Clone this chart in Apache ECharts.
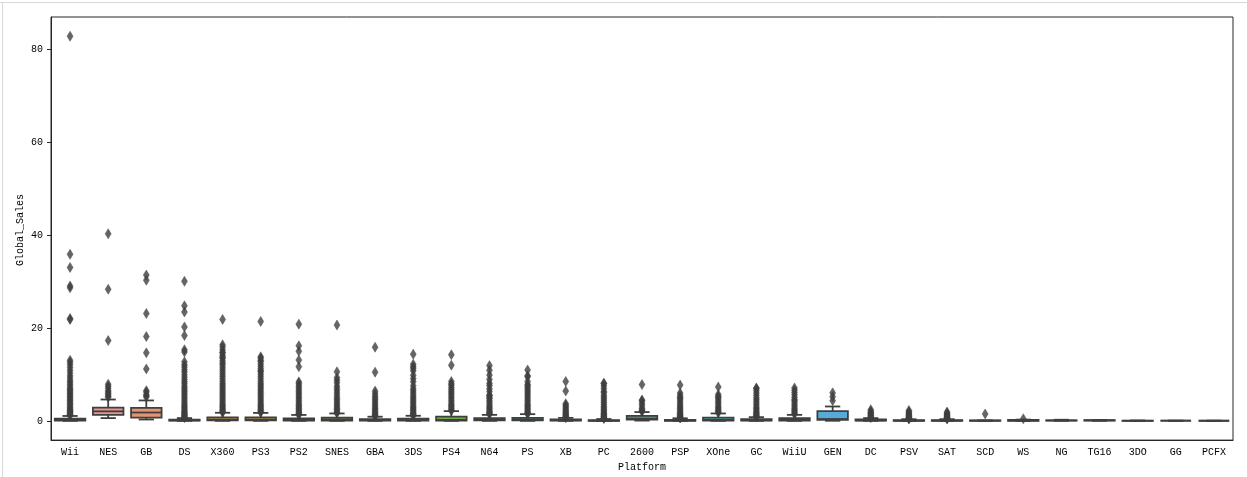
<!DOCTYPE html>
<html>
<head>
<meta charset="utf-8">
<script src="https://cdn.jsdelivr.net/npm/echarts@6/dist/echarts.min.js"></script>
<style>
html,body{margin:0;padding:0;background:#fff;}
#chart{position:absolute;left:0;top:0;width:1247px;height:477px;}
.bt{position:absolute;left:0;top:2px;width:1247px;height:1px;background:#d9d9d9;}
.bl{position:absolute;left:2px;top:2px;width:1px;height:475px;background:#d9d9d9;}
</style>
</head>
<body>
<div id="chart"></div>
<div class="bt"></div><div class="bl"></div>
<script>
// ---- data ----
const platforms = ['Wii','NES','GB','DS','X360','PS3','PS2','SNES','GBA','3DS','PS4','N64','PS','XB','PC','2600','PSP','XOne','GC','WiiU','GEN','DC','PSV','SAT','SCD','WS','NG','TG16','3DO','GG','PCFX'];
const whiskerLow  = [0.01,0.6,0.3,0.01,0.01,0.01,0.01,0.01,0.01,0.01,0.01,0.01,0.01,0.01,0.01,0.07,0.01,0.01,0.01,0.01,0.03,0.02,0.01,0.01,0.02,0.01,0.02,0.02,0.02,0.04,0.03];
const q1          = [0.09,1.3,0.7,0.05,0.11,0.11,0.08,0.07,0.06,0.05,0.06,0.10,0.11,0.06,0.02,0.30,0.02,0.06,0.06,0.08,0.25,0.05,0.02,0.02,0.03,0.02,0.07,0.07,0.02,0.04,0.03];
const median      = [0.19,2.05,1.8,0.11,0.28,0.28,0.23,0.32,0.16,0.17,0.22,0.27,0.26,0.15,0.04,0.50,0.09,0.22,0.15,0.22,0.40,0.10,0.05,0.06,0.06,0.08,0.10,0.12,0.02,0.04,0.03];
const q3          = [0.48,2.85,2.8,0.27,0.77,0.76,0.56,0.70,0.40,0.48,0.90,0.60,0.65,0.30,0.17,1.10,0.24,0.69,0.37,0.57,2.10,0.30,0.16,0.16,0.09,0.20,0.12,0.17,0.06,0.04,0.03];
const whiskerHigh = [1.06,4.6,4.4,0.60,1.75,1.72,1.28,1.60,0.90,1.10,2.10,1.30,1.45,0.65,0.40,1.90,0.56,1.60,0.80,1.30,3.10,0.60,0.36,0.37,0.10,0.28,0.25,0.20,0.08,0.04,0.03];

const outWii  = [82.74,35.82,33.0,29.02,28.62,22.0,21.82,13.04,12.6,12.1,11.5,10.9,10.3,9.7,9.2,8.7,8.3,7.9,7.5,7.1,6.8,6.5,6.2,5.9,5.6,5.3,5.0,4.7,4.4,4.1,3.8,3.5,3.2,2.9,2.6,2.4,2.2,2.0,1.8,1.6,1.45,1.3,1.15];
const outNES  = [40.24,28.31,17.28,7.9,7.46,7.0,6.51,6.2,5.9,5.58,5.3,5.1];
const outGB   = [31.37,30.26,23.1,18.14,14.64,11.18,6.51,6.2,5.64,5.4,5.13];
const outDS   = [30.01,24.76,23.42,20.22,18.36,15.3,14.82,12.7,12.1,11.6,11.0,10.5,9.9,9.4,8.9,8.4,8.0,7.5,7.1,6.7,6.3,5.9,5.5,5.1,4.7,4.3,3.9,3.5,3.2,2.9,2.6,2.3,2.0,1.8,1.6,1.4,1.2,1.0,0.85,0.7];
const outX360 = [21.82,16.38,15.9,15.3,14.76,14.64,14.1,13.68,13.51,13.0,12.5,12.12,11.6,11.1,10.6,10.1,9.6,9.1,8.6,8.1,7.7,7.3,6.9,6.5,6.1,5.7,5.3,4.9,4.5,4.1,3.7,3.4,3.1,2.8,2.5,2.25,2.0,1.8];
const outPS3  = [21.4,13.79,13.46,13.0,12.73,12.2,11.7,11.2,10.77,10.61,10.1,9.6,9.1,8.6,8.1,7.7,7.3,6.9,6.5,6.1,5.7,5.3,4.9,4.5,4.1,3.7,3.4,3.1,2.8,2.5,2.25,2.0,1.8];
const outPS2  = [20.81,16.15,14.98,13.1,11.66,8.4,8.05,7.6,7.2,6.8,6.4,6.0,5.6,5.2,4.8,4.4,4.0,3.6,3.3,3.0,2.7,2.4,2.1,1.85,1.6,1.4,1.3];
const outSNES = [20.61,10.55,9.3,8.76,8.2,7.5,7.0,6.5,6.0,5.5,5.0,4.6,4.2,3.8,3.4,3.0,2.7,2.4,2.1,1.85,1.65];
const outGBA  = [15.85,10.49,6.41,5.9,5.4,5.0,4.6,4.2,3.8,3.4,3.0,2.7,2.4,2.1,1.8,1.5,1.3,1.1,0.95];
const out3DS  = [14.35,12.21,11.68,11.33,10.79,9.82,9.09,8.4,7.55,6.9,6.5,6.0,5.5,5.1,4.7,4.3,3.9,3.5,3.1,2.8,2.5,2.2,1.9,1.65,1.45,1.25,1.15];
const outPS4  = [14.24,11.98,8.49,8.0,7.67,7.2,6.8,6.4,6.0,5.6,5.2,4.8,4.4,4.0,3.6,3.3,3.0,2.7,2.4,2.2];
const outN64  = [11.89,10.9,9.87,8.9,8.09,7.6,6.9,6.3,5.55,5.45,5.1,4.8,4.4,4.0,3.6,3.2,2.9,2.6,2.3,2.0,1.8,1.6,1.45];
const outPS   = [10.95,9.72,9.49,8.5,7.86,7.58,7.2,6.8,6.4,6.0,5.6,5.2,4.8,4.4,4.0,3.6,3.3,3.0,2.7,2.4,2.1,1.85,1.65,1.5];
const outXB   = [8.49,6.43,3.7,3.4,3.1,2.8,2.5,2.2,1.95,1.7,1.5,1.3,1.1,0.95,0.8,0.7];
const outPC   = [8.11,8.03,7.5,6.9,6.3,6.07,5.5,5.1,4.7,4.3,3.9,3.5,3.1,2.8,2.5,2.2,1.9,1.65,1.45,1.25,1.05,0.9,0.75,0.6,0.5];
const out2600 = [7.81,4.5,4.31,3.8,3.3,2.76,2.5,2.2,2.0];
const outPSP  = [7.72,6.0,5.5,5.08,4.87,4.5,4.1,3.7,3.3,3.0,2.7,2.4,2.1,1.8,1.55,1.35,1.15,1.0,0.85,0.7,0.62];
const outXOne = [7.3,5.7,5.26,5.08,4.7,4.3,3.9,3.5,3.1,2.8,2.5,2.2,1.95,1.75];
const outGC   = [7.07,6.95,6.5,6.0,5.5,5.0,4.6,4.2,3.8,3.4,3.0,2.7,2.4,2.1,1.85,1.6,1.4,1.2,1.0,0.9];
const outWiiU = [7.09,6.6,6.1,5.6,5.1,4.6,4.4,4.0,3.6,3.2,2.8,2.5,2.2,1.9,1.65,1.45];
const outGEN  = [6.03,5.2,4.34];
const outDC   = [2.42,2.1,1.8,1.6,1.4,1.2,1.0,0.85,0.7];
const outPSV  = [2.25,1.95,1.7,1.5,1.3,1.1,0.95,0.8,0.7,0.6,0.5,0.42];
const outSAT  = [1.93,1.7,1.5,1.3,1.1,0.95,0.8,0.7,0.6,0.5,0.42];
const outSCD  = [1.5];
const outWS   = [0.46];
const outliers = [outWii,outNES,outGB,outDS,outX360,outPS3,outPS2,outSNES,outGBA,out3DS,outPS4,outN64,outPS,outXB,outPC,out2600,outPSP,outXOne,outGC,outWiiU,outGEN,outDC,outPSV,outSAT,outSCD,outWS,[],[],[],[],[]];
const yTicks = [0,20,40,60,80];

// ---- seaborn-like husl palette (l=.7), desaturated .75 ----
const HM=[[3.2406,-1.5372,-0.4986],[-0.9689,1.8758,0.0415],[0.0557,-0.2040,1.0570]];
function maxChroma(L,H){const hr=H*Math.PI/180,sH=Math.sin(hr),cH=Math.cos(hr);const s1=Math.pow(L+16,3)/1560896;const s2=s1>0.008856?s1:L/903.3;let res=Infinity;
 for(const [m1,m2,m3] of HM){const top=(0.99915*m1+1.05122*m2+1.14460*m3)*s2;const rb=0.86330*m3-0.17266*m2;const lb=0.12949*m3-0.38848*m1;const bot=(rb*sH+lb*cH)*s2;
  for(const t of [0,1]){const C=L*(top-1.05122*t)/(bot+0.17266*sH*t);if(C>0&&C<res)res=C;}}return res;}
function huslToRgb(H,S,L){const C=maxChroma(L,H)/100*S;const hr=H*Math.PI/180;const U=Math.cos(hr)*C,V=Math.sin(hr)*C;
 const t=(L+16)/116;const Y=Math.pow(t,3)>0.008856?Math.pow(t,3):(116*t-16)/903.3;const vu=U/(13*L)+0.19784,vv=V/(13*L)+0.46834;
 const X=-(9*Y*vu)/((vu-4)*vv-vu*vv);const Z=(9*Y-15*vv*Y-vv*X)/(3*vv);
 return HM.map(r=>{const c=r[0]*X+r[1]*Y+r[2]*Z;const v=c<=0.0031308?12.92*c:1.055*Math.pow(c,1/2.4)-0.055;return Math.min(1,Math.max(0,v));});}
function rgbToHls(r,g,b){const mx=Math.max(r,g,b),mn=Math.min(r,g,b);const l=(mx+mn)/2;if(mx===mn)return[0,l,0];const s=l<=0.5?(mx-mn)/(mx+mn):(mx-mn)/(2-mx-mn);
 const rc=(mx-r)/(mx-mn),gc=(mx-g)/(mx-mn),bc=(mx-b)/(mx-mn);let h;if(r===mx)h=bc-gc;else if(g===mx)h=2+rc-bc;else h=4+gc-rc;h=((h/6)%1+1)%1;return[h,l,s];}
function hlsToRgb(h,l,s){if(s===0)return[l,l,l];const m2=l<=0.5?l*(1+s):l+s-l*s;const m1=2*l-m2;
 const v=hu=>{hu=((hu%1)+1)%1;if(hu<1/6)return m1+(m2-m1)*hu*6;if(hu<0.5)return m2;if(hu<2/3)return m1+(m2-m1)*(2/3-hu)*6;return m1;};return[v(h+1/3),v(h),v(h-1/3)];}
const toHex=c=>'#'+c.map(v=>Math.round(v*255).toString(16).padStart(2,'0')).join('');
const n=platforms.length;
const rawCols=platforms.map((_,i)=>huslToRgb(((i/n+0.01)%1)*359,0.9*99,0.7*99));
const desat=rawCols.map(c=>{const [h,l,s]=rgbToHls(...c);return hlsToRgb(h,l,s*0.75);});
const boxColors=desat.map(toHex);
const gray='#3f3f3f';

const boxData=platforms.map((p,i)=>[i,whiskerLow[i],q1[i],median[i],q3[i],whiskerHigh[i]]);
const fliers=[];
outliers.forEach((arr,i)=>arr.forEach(v=>fliers.push([i,v])));

const chart=echarts.init(document.getElementById('chart'),null,{renderer:'canvas'});
const font='"Liberation Mono", "DejaVu Sans Mono", monospace';
chart.setOption({
 animation:false,
 grid:{left:51,right:14,top:17,bottom:34,show:true,borderColor:'#262626',borderWidth:1,backgroundColor:'transparent'},
 graphic:[{type:'text',x:20,y:230,rotation:Math.PI/2,
   style:{text:'Global_Sales',fill:'#000',font:'10px "Liberation Mono", "DejaVu Sans Mono", monospace',align:'center',verticalAlign:'middle'}}],
 xAxis:{type:'category',data:platforms,boundaryGap:true,
  name:'Platform',nameLocation:'middle',nameGap:19,nameTextStyle:{color:'#000',fontFamily:font,fontSize:10},
  axisLine:{onZero:false,lineStyle:{color:'#262626',width:1}},
  axisTick:{alignWithLabel:true,length:4,lineStyle:{color:'#262626'}},
  axisLabel:{interval:0,color:'#000',fontFamily:font,fontSize:10,margin:7},
  splitLine:{show:false}},
 yAxis:{type:'value',min:-4.13,max:86.87,
  axisLine:{show:true,lineStyle:{color:'#262626',width:1}},
  axisTick:{show:true,length:4,customValues:yTicks,lineStyle:{color:'#262626'}},
  axisLabel:{color:'#000',fontFamily:font,fontSize:10,margin:8,customValues:yTicks},
  splitLine:{show:false}},
 series:[
  {type:'custom',data:boxData,encode:{x:0,y:[1,2,3,4,5]},z:2,
   renderItem(params,api){
    const i=api.value(0);
    const lo=api.coord([i,api.value(1)]),a=api.coord([i,api.value(2)]),m=api.coord([i,api.value(3)]),b=api.coord([i,api.value(4)]),hi=api.coord([i,api.value(5)]);
    const bw=api.size([1,0])[0]*0.8;const x=lo[0];const cw=bw/4;
    const ls={stroke:gray,lineWidth:1.8};
    return {type:'group',children:[
     {type:'line',shape:{x1:x,y1:b[1],x2:x,y2:hi[1]},style:ls},
     {type:'line',shape:{x1:x,y1:a[1],x2:x,y2:lo[1]},style:ls},
     {type:'line',shape:{x1:x-cw,y1:hi[1],x2:x+cw,y2:hi[1]},style:ls},
     {type:'line',shape:{x1:x-cw,y1:lo[1],x2:x+cw,y2:lo[1]},style:ls},
     {type:'rect',shape:{x:x-bw/2,y:b[1],width:bw,height:a[1]-b[1]},style:{fill:boxColors[i],stroke:gray,lineWidth:1.8}},
     {type:'line',shape:{x1:x-bw/2,y1:m[1],x2:x+bw/2,y2:m[1]},style:ls}
    ]};
   }},
  {type:'scatter',data:fliers,symbol:'diamond',symbolSize:[6,10],z:3,
   itemStyle:{color:gray,borderColor:gray,borderWidth:0.5}}
 ]
});
</script>
</body>
</html>
